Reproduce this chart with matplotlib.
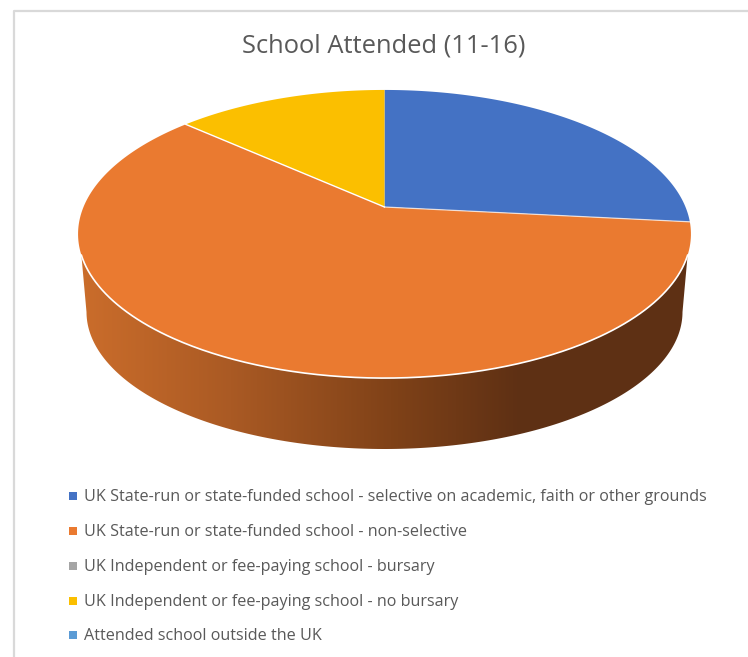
#!/usr/bin/python3

import numpy as np
import matplotlib.pyplot as plt
from matplotlib.patches import Polygon

plt.rcParams['font.family'] = ['Open Sans', 'DejaVu Sans']

title = "School Attended (11-16)"
categories = [
    "UK State-run or state-funded school - selective on academic, faith or other grounds",
    "UK State-run or state-funded school - non-selective",
    "UK Independent or fee-paying school - bursary",
    "UK Independent or fee-paying school - no bursary",
    "Attended school outside the UK",
]
values = [4, 9, 0, 2, 0]
colors = ['#4472c4', '#ea7a30', '#a5a5a5', '#fbbf00', '#5b9bd5']

# screen position of the pie top, perspective comes from k
cx, cy = 384.5, 207
fx, fy, k = 301, 139, 0.1875

def top(theta):
    # theta clockwise from 12 o'clock
    w = 1 + k * np.cos(theta)
    return cx + fx * np.sin(theta) / w, cy - fy * np.cos(theta) / w

fig = plt.figure(figsize=(7.48, 6.57), dpi=100)
ax = fig.add_axes([0, 0, 1, 1])
ax.set_xlim(0, 748)
ax.set_ylim(657, 0)
ax.axis('off')

# chart frame
ax.plot([14, 14, 748], [657, 11, 11], color='#d9d9d9', lw=1.6)

# side wall, clipped horizontal gradient
t = np.linspace(0, 2 * np.pi, 721)
tx, ty = top(t)
front = ty > 255
order = np.argsort(tx[front])
upper_x, upper_y = tx[front][order], ty[front][order]
a = np.linspace(np.pi, 0, 200)
lower_x = 384.5 + 298 * np.cos(a)
lower_y = 312 + 137 * np.sin(a)
wall = np.column_stack([
    np.r_[upper_x, lower_x[::-1]],
    np.r_[upper_y, lower_y[::-1]],
])
stops_x = [80, 230, 390, 520, 700]
stops_rgb = np.array([[203, 109, 43], [170, 90, 36], [128, 66, 24], [94, 48, 20], [94, 48, 20]]) / 255
grad_x = np.arange(70, 700)
grad = np.stack([np.interp(grad_x, stops_x, stops_rgb[:, i]) for i in range(3)], axis=-1)[None, :, :]
img = ax.imshow(grad, extent=(70, 700, 460, 240), aspect='auto', zorder=1)
clip = Polygon(wall, closed=True, transform=ax.transData)
img.set_clip_path(clip)
ax.set_xlim(0, 748)
ax.set_ylim(657, 0)

# pie top
fracs = np.cumsum([0] + values) / sum(values)
for i, v in enumerate(values):
    if v == 0:
        continue
    th = np.linspace(fracs[i], fracs[i + 1], 200) * 2 * np.pi
    x, y = top(th)
    ax.fill(np.r_[cx, x], np.r_[cy, y], color=colors[i], lw=0, zorder=2)
# slice borders are faint except the orange/yellow one
ax.plot(*zip((cx, cy), top(fracs[1] * 2 * np.pi)), color='white', lw=0.9, alpha=0.7, zorder=3)
ax.plot(*zip((cx, cy), top(fracs[3] * 2 * np.pi)), color='white', lw=1.0, zorder=3)
ax.plot(upper_x, upper_y, color='white', lw=1.2, zorder=3)

ax.text(384, 46, title, ha='center', va='center', fontsize=18.4, color='#595959')

legend_y = [496, 531, 566, 601, 635]
for label, c, y in zip(categories, colors, legend_y):
    ax.scatter([73], [y], marker='s', s=30, color=c, lw=0)
    ax.text(84, y + 1, label, ha='left', va='center', fontsize=11.6, color='#595959')

fig.savefig('out.png', dpi=100)
